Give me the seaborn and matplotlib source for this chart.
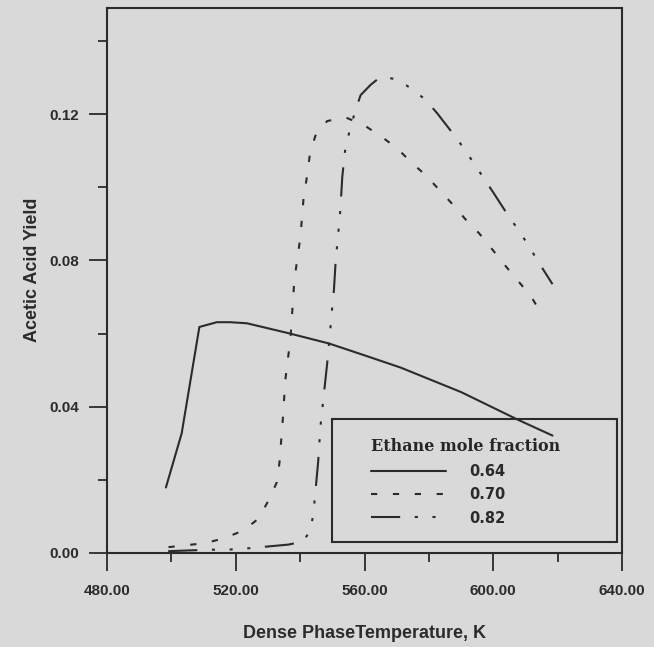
import matplotlib
matplotlib.use("Agg")
import matplotlib.pyplot as plt
import seaborn as sns
import pandas as pd
from matplotlib.patches import Rectangle
from matplotlib.ticker import MultipleLocator, FormatStrFormatter

# ethane mole fraction 0.64 (solid)
t_064 = [498.3, 503.2, 508.7, 514.1, 518.3, 523.5, 535.9, 548.9, 559.8, 571.2, 590.0, 607.5, 618.4]
y_064 = [0.0179, 0.0327, 0.0618, 0.0631, 0.0631, 0.0628, 0.0602, 0.0573, 0.0541, 0.0507, 0.0440, 0.0365, 0.0321]

# ethane mole fraction 0.70 (dashed)
t_070 = [499.1, 510.5, 516.7, 522.4, 527.1, 530.2, 532.8, 533.6, 534.6, 535.4, 537.0, 538.2,
         540.1, 541.1, 542.2, 543.0, 544.7, 548.4, 554.1, 559.8, 565.0, 570.2, 574.3, 579.0,
         583.1, 587.3, 591.4, 595.6, 599.7, 603.6, 607.5, 611.7, 615.6]
y_070 = [0.0016, 0.0027, 0.0041, 0.0062, 0.0094, 0.0144, 0.0194, 0.0249, 0.0363, 0.0473, 0.0587, 0.0746,
         0.0865, 0.0974, 0.1033, 0.1088, 0.1140, 0.1181, 0.1191, 0.1170, 0.1140, 0.1106, 0.1070, 0.1033,
         0.0994, 0.0954, 0.0912, 0.0874, 0.0830, 0.0787, 0.0746, 0.0702, 0.0645]

# ethane mole fraction 0.82 (dash-dot-dot)
t_082 = [499.0, 512.2, 517.3, 522.9, 536.4, 541.1, 543.4, 544.2, 544.7, 545.6, 546.3, 547.4,
         548.4, 549.4, 549.9, 550.5, 551.0, 551.5, 552.0, 552.5, 553.1, 554.1, 555.6, 557.2,
         558.8, 561.9, 565.0, 570.2, 574.8, 579.0, 582.6, 587.8, 590.9, 594.0, 597.1, 600.2,
         604.9, 608.0, 611.2, 614.0, 618.4]
y_082 = [0.0005, 0.0009, 0.0009, 0.0012, 0.0023, 0.0032, 0.0067, 0.0117, 0.0163, 0.0249, 0.0345, 0.0436,
         0.0518, 0.0614, 0.0664, 0.0719, 0.0792, 0.0842, 0.0888, 0.0938, 0.1029, 0.1111, 0.1161, 0.1211,
         0.1252, 0.1280, 0.1302, 0.1295, 0.1268, 0.1239, 0.1202, 0.1143, 0.1106, 0.1065, 0.1024, 0.0983,
         0.0919, 0.0881, 0.0837, 0.0796, 0.0735]

labels = ["0.64", "0.70", "0.82"]

bg = "#d9d9d9"
ink = "#2b2b2b"

sns.set_theme(style="ticks")
plt.rcParams["font.family"] = ["Liberation Sans", "DejaVu Sans"]

fig = plt.figure(figsize=(6.54, 6.47), dpi=100, facecolor=bg)
ax = fig.add_axes([0.1636, 0.1453, 0.7875, 0.8423], facecolor=bg)

styles = ["-", (0, (3, 7.5)), (0, (14, 7, 1.5, 7, 1.5, 7, 1.5, 7))]
series = [(t_064, y_064), (t_070, y_070), (t_082, y_082)]
for (t, y), lab, ls in zip(series, labels, styles):
    df = pd.DataFrame({"T": t, "Y": y})
    sns.lineplot(data=df, x="T", y="Y", ax=ax, color=ink, linewidth=1.5,
                 linestyle=ls, sort=False, estimator=None, label=lab)

ax.set_xlim(480, 640)
ax.set_ylim(0, 0.149)
ax.xaxis.set_major_locator(MultipleLocator(40))
ax.xaxis.set_minor_locator(MultipleLocator(20))
ax.yaxis.set_major_locator(MultipleLocator(0.04))
ax.yaxis.set_minor_locator(MultipleLocator(0.02))
ax.xaxis.set_major_formatter(FormatStrFormatter("%.2f"))
ax.yaxis.set_major_formatter(FormatStrFormatter("%.2f"))

ax.tick_params(which="major", direction="out", length=13, width=1.3, color=ink,
               labelsize=11, labelcolor=ink)
ax.tick_params(which="minor", direction="out", length=6.5, width=1.3, color=ink)
ax.tick_params(axis="x", which="major", pad=9)
ax.tick_params(axis="y", which="major", pad=7)
for lbl in ax.get_xticklabels() + ax.get_yticklabels():
    lbl.set_fontweight("bold")

for s in ax.spines.values():
    s.set_visible(True)
    s.set_linewidth(1.5)
    s.set_color(ink)

ax.set_xlabel("Dense PhaseTemperature, K", fontsize=13, fontweight="bold", color=ink)
ax.set_ylabel("Acetic Acid Yield", fontsize=13, fontweight="bold", color=ink)
ax.xaxis.label.set_va("center")
ax.yaxis.label.set_va("center")
ax.xaxis.set_label_coords(0.5, -0.147)
ax.yaxis.set_label_coords(-0.144, 0.52)

# legend frame drawn separately, entries placed inside it
ax.add_patch(Rectangle((0.437, 0.020), 0.553, 0.226, transform=ax.transAxes,
                       fill=False, edgecolor=ink, linewidth=1.5, zorder=5))
leg = ax.legend(loc="upper left", bbox_to_anchor=(0.4975, 0.224), frameon=False,
                borderpad=0, handlelength=5.2, handletextpad=1.6, labelspacing=0.58,
                title="Ethane mole fraction", alignment="left",
                prop={"family": "DejaVu Sans", "weight": "bold", "size": 10.5})
leg.get_title().set_fontfamily("DejaVu Serif")
leg.get_title().set_fontweight("bold")
leg.get_title().set_fontsize(11.5)
for txt in leg.get_texts():
    txt.set_color(ink)
for h in leg.get_lines():
    h.set_linewidth(1.5)

fig.savefig("out.png", dpi=100, facecolor=bg)
